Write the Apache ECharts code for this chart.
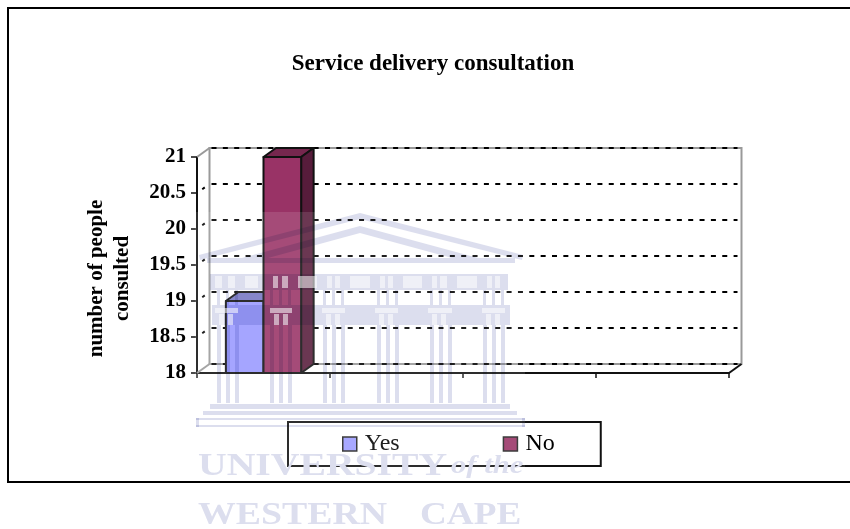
<!DOCTYPE html>
<html>
<head>
<meta charset="utf-8">
<style>html,body{margin:0;padding:0;background:#fff}#chart{width:850px;height:529px}</style>
<script src="https://cdn.jsdelivr.net/npm/echarts@6/dist/echarts.min.js"></script>
</head>
<body>
<div id="chart"></div>
<script>
// Survey responses: one group of two bars on a four-slot category axis.
const categories = ['1', '2', '3', '4'];
const yesValues = [19];
const noValues = [21];
const gridValues = [18, 18.5, 19, 19.5, 20, 20.5, 21];

const SERIF = '"Liberation Serif","Times New Roman",serif';
const DEPTH_X = 12.5, DEPTH_Y = -9;      // oblique offset of the back wall
const BAR_SHARE = 0.283;                 // bar width as a share of one category band
const INK = '#111';
const WM = '#dcdeee';                    // crest tint

const chart = echarts.init(document.getElementById('chart'), null, { renderer: 'canvas' });

// Back wall, side wall, floor and the dashed gridlines projected onto them.
function renderWall(params, api) {
  const v = api.value(0);
  const cs = params.coordSys;
  const y = api.coord([0, v])[1];
  const L = cs.x, R = cs.x + cs.width, T = cs.y, B = cs.y + cs.height;
  const kids = [];
  if (params.dataIndex === 0) {
    const grey = { stroke: '#999', lineWidth: 2, fill: null };
    kids.push({ type: 'rect', shape: { x: L + DEPTH_X, y: T + DEPTH_Y, width: cs.width, height: cs.height }, style: { fill: '#fff', stroke: '#999', lineWidth: 2 } });
    kids.push({ type: 'polyline', shape: { points: [[L, T], [L + DEPTH_X, T + DEPTH_Y]] }, style: grey });
    kids.push({ type: 'polyline', shape: { points: [[L, B], [L + DEPTH_X, B + DEPTH_Y]] }, style: grey });
    kids.push({ type: 'polyline', shape: { points: [[R, B], [R + DEPTH_X, B + DEPTH_Y]] }, style: { stroke: INK, lineWidth: 2, fill: null } });
  }
  kids.push({
    type: 'line',
    shape: { x1: L + DEPTH_X, y1: y + DEPTH_Y, x2: R + DEPTH_X - 4, y2: y + DEPTH_Y },
    style: { stroke: '#000', lineWidth: 2, lineDash: [5, 6.35], lineDashOffset: -2 }
  });
  if (v !== 18 && v !== 21) {
    kids.push({
      type: 'line',
      shape: { x1: L + DEPTH_X * 0.42, y1: y + DEPTH_Y * 0.42, x2: L + DEPTH_X * 0.62, y2: y + DEPTH_Y * 0.62 },
      style: { stroke: '#000', lineWidth: 2 }
    });
  }
  return { type: 'group', children: kids };
}

// Oblique box bar: front face, top face and right side face.
function boxBar(shift, front, top, side) {
  return function (params, api) {
    const base = api.coord([api.value(0), 18]);
    const head = api.coord([api.value(0), api.value(1)]);
    const band = api.size([1, 0])[0];
    const w = band * BAR_SHARE;
    const x0 = base[0] + shift * w - w / 2, x1 = x0 + w;
    const line = { stroke: INK, lineWidth: 2, lineJoin: 'round' };
    return {
      type: 'group',
      children: [
        { type: 'polygon', shape: { points: [[x0, head[1]], [x0 + DEPTH_X, head[1] + DEPTH_Y], [x1 + DEPTH_X, head[1] + DEPTH_Y], [x1, head[1]]] }, style: Object.assign({ fill: top }, line) },
        { type: 'polygon', shape: { points: [[x1, head[1]], [x1 + DEPTH_X, head[1] + DEPTH_Y], [x1 + DEPTH_X, base[1] + DEPTH_Y], [x1, base[1]]] }, style: Object.assign({ fill: side }, line) },
        { type: 'rect', shape: { x: x0, y: head[1], width: w, height: base[1] - head[1] }, style: Object.assign({ fill: front }, line) }
      ]
    };
  };
}

// Faint crest drawn across the page, darkening whatever lies underneath it.
function crest() {
  const els = [];
  const mul = { fill: WM, blend: 'multiply' };
  const band = (x, y, width, height, fill) => els.push({
    type: 'rect', z: 100, silent: true, shape: { x, y, width, height }, style: { fill: fill || WM, blend: 'multiply' }
  });
  const clear = (x, y, width, height) => els.push({
    type: 'rect', z: 100, silent: true, shape: { x, y, width, height }, style: { fill: 'rgba(255,255,255,0.55)' }
  });
  // wash over the crest area
  els.push({ type: 'rect', z: 100, silent: true, shape: { x: 195, y: 212, width: 330, height: 317 }, style: { fill: 'rgba(255,255,255,0.12)' } });
  // pediment
  els.push({ type: 'polygon', z: 100, silent: true, shape: { points: [[199, 255], [360, 213], [523, 255], [522, 260], [360, 219], [200, 260]] }, style: mul });
  els.push({ type: 'polygon', z: 100, silent: true, shape: { points: [[242, 258], [360, 226], [478, 258], [452, 258], [360, 233], [268, 258]] }, style: mul });
  band(207, 258, 308, 5);
  // frieze: pale band broken by column stripes and windows
  band(210, 274, 298, 16);
  [[215, 7], [228, 7], [245, 13], [273, 5], [282, 6], [298, 19], [327, 5], [335, 5], [350, 20], [380, 5], [388, 5], [403, 19], [432, 5], [440, 7], [457, 20], [487, 5], [495, 5]].forEach(w => clear(w[0], 276, w[1], 12));
  // architrave with capitals and column heads
  band(212, 305, 298, 20);
  [[215, 23], [270, 22], [322, 23], [375, 23], [428, 24], [482, 23]].forEach(c => {
    clear(c[0], 308, c[1], 5);
    clear(c[0] + 4, 314, 5, 11);
    clear(c[0] + 13, 314, 5, 11);
  });
  // columns
  [217, 270, 323, 377, 430, 483].forEach(x => {
    [0, 9, 18].forEach(o => band(x + o, 325, 4, 78));
    [0, 9, 18].forEach(o => band(x + o, 290, 3, 15));
  });
  // stepped base
  band(210, 404, 300, 5);
  band(203, 411, 314, 4);
  band(196, 418, 329, 2);
  band(196, 425, 329, 2);
  band(196, 418, 3, 9);
  band(522, 418, 3, 9);
  // lettering
  const letter = (text, x, y, sx, font) => els.push({
    type: 'text', z: 100, silent: true, x, y, scaleX: sx,
    style: { text, x: 0, y: 0, fill: WM, font, verticalAlign: 'top', blend: 'multiply' }
  });
  letter('UNIVERSITY', 198, 451, 1.28, 'bold 31px ' + SERIF);
  letter('of the', 451, 453, 1.18, 'italic bold 26px ' + SERIF);
  letter('WESTERN', 198, 500, 1.22, 'bold 31px ' + SERIF);
  letter('CAPE', 420, 500, 1.2, 'bold 31px ' + SERIF);
  return els;
}

const option = {
  backgroundColor: '#fff',
  animation: false,
  title: {
    text: 'Service delivery consultation',
    left: 428, top: 48, textAlign: 'center',
    textStyle: { fontFamily: SERIF, fontWeight: 'bold', fontSize: 23, color: '#000' }
  },
  legend: {
    left: 288, top: 422,
    padding: [10, 46, 10, 54],
    itemWidth: 14, itemHeight: 14, itemGap: 103,
    borderColor: INK, borderWidth: 2,
    backgroundColor: 'transparent',
    icon: 'rect',
    textStyle: { fontFamily: SERIF, fontSize: 24, color: '#000', padding: [3, 0, 0, 3] },
    data: [
      { name: 'Yes', itemStyle: { color: '#9c9cff', borderColor: '#222', borderWidth: 1.5 } },
      { name: 'No', itemStyle: { color: '#993366', borderColor: '#222', borderWidth: 1.5 } }
    ]
  },
  grid: { left: 197, right: 121, top: 157, height: 216, containLabel: false },
  xAxis: {
    type: 'category',
    data: categories,
    boundaryGap: true,
    axisLine: { lineStyle: { color: INK, width: 2 } },
    axisTick: { show: true, length: 5, inside: false, lineStyle: { color: INK, width: 1.5 } },
    axisLabel: { show: false },
    splitLine: { show: false }
  },
  yAxis: {
    type: 'value',
    min: 18, max: 21, interval: 0.5,
    name: 'number of people\nconsulted',
    nameLocation: 'middle', nameGap: 61, nameRotate: 90,
    nameTextStyle: { fontFamily: SERIF, fontWeight: 'bold', fontSize: 21, lineHeight: 26, color: '#000', padding: [0, 27, 0, 0] },
    axisLine: { show: true, lineStyle: { color: INK, width: 2 } },
    axisTick: { show: true, length: 6, lineStyle: { color: INK, width: 1.5 } },
    axisLabel: {
      fontFamily: SERIF, fontWeight: 'bold', fontSize: 21, color: '#000', margin: 11,
      padding: [6, 0, 0, 0],
      formatter: v => String(v)
    },
    splitLine: { show: false }
  },
  series: [
    {
      name: 'wall', type: 'custom', z: 1, silent: true,
      encode: { y: 0 }, data: gridValues.map(v => [v]),
      renderItem: renderWall
    },
    {
      name: 'Yes', type: 'custom', z: 3,
      encode: { x: 0, y: 1 },
      data: yesValues.map((v, i) => [i, v]),
      renderItem: boxBar(-0.5, '#9999ff', '#7676c2', '#5c5c99')
    },
    {
      name: 'No', type: 'custom', z: 4,
      encode: { x: 0, y: 1 },
      data: noValues.map((v, i) => [i, v]),
      renderItem: boxBar(0.5, '#993366', '#76274e', '#571c3b')
    }
  ],
  graphic: [
    { type: 'group', silent: true, children: crest() },
    { type: 'polyline', z: 110, silent: true, shape: { points: [[850, 8], [8, 8], [8, 482], [850, 482]] }, style: { stroke: '#000', lineWidth: 2, fill: null } }
  ]
};
chart.setOption(option);
</script>
</body>
</html>
